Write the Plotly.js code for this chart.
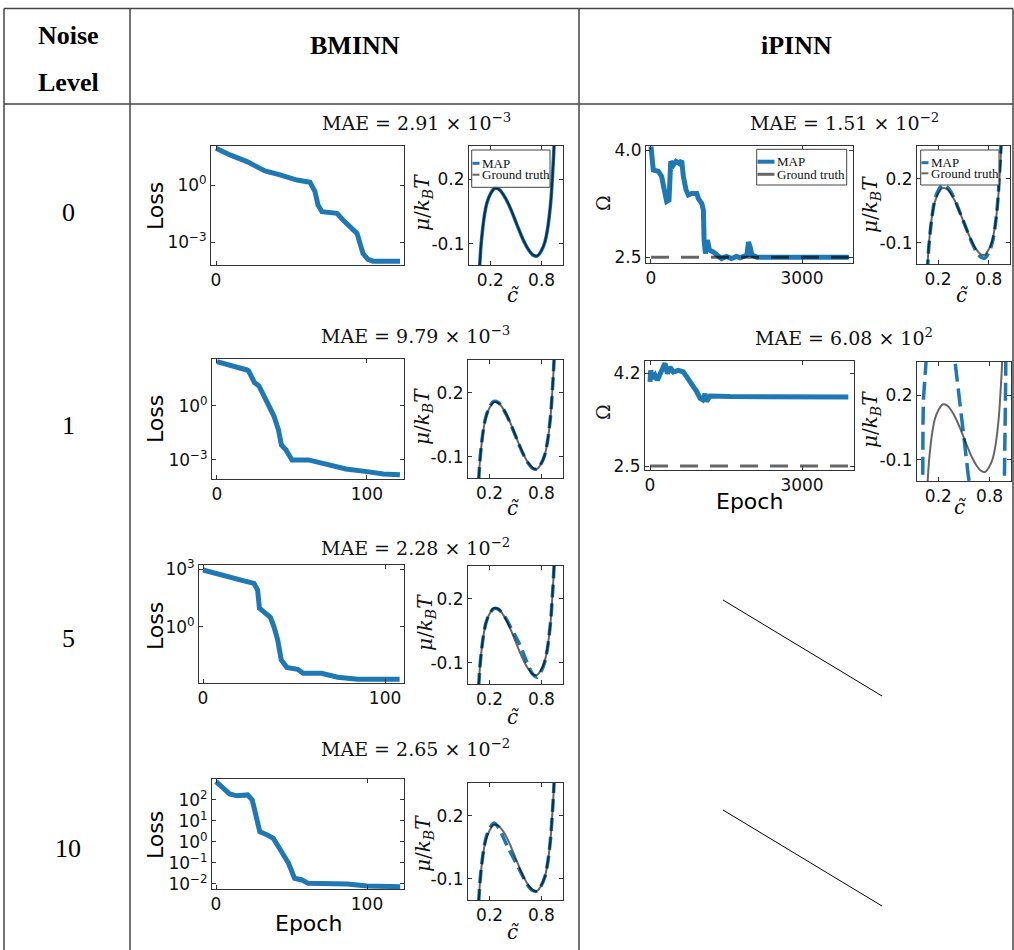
<!DOCTYPE html>
<html><head><meta charset="utf-8">
<script src="https://cdn.plot.ly/plotly-3.0.1.min.js"></script>
<style>html,body{margin:0;padding:0;background:#fff;} #chart{width:1014px;height:950px;}</style>
</head><body><div id="chart"></div>
<script>
// ---------------- data ----------------
const noiseLevels = ['0', '1', '5', '10'];
const methods = ['BMINN', 'iPINN'];
const maeBMINN = ['2.91 × 10<sup>−3</sup>', '9.79 × 10<sup>−3</sup>', '2.28 × 10<sup>−2</sup>', '2.65 × 10<sup>−2</sup>'];
const maeIPINN = ['1.51 × 10<sup>−2</sup>', '6.08 × 10<sup>2</sup>'];

// BMINN loss curves
const lossEpochs0 = [0, 14, 31, 49, 64, 81, 94, 99, 102, 106, 121, 127, 141, 144, 147, 152, 157, 184];
const loss0 = [85.1, 38.0, 17.0, 5.5, 3.39, 1.82, 1.38, 0.447, 0.0891, 0.0398, 0.0324, 0.0145, 0.00288, 0.000692, 0.000251, 0.000126, 0.0001, 0.0001];
const lossEpochs1 = [0, 9, 20, 21, 25, 28, 33, 38, 41, 43, 46, 50, 61, 75, 86, 100, 111, 122];
const loss1 = [288, 191, 100, 91.2, 20.0, 12.9, 2.14, 0.275, 0.0468, 0.00676, 0.00363, 0.001, 0.001, 0.000501, 0.000316, 0.000224, 0.000166, 0.000148];
const lossEpochs5 = [0, 8, 15, 22, 28, 30, 31, 33, 37, 39, 41, 43, 46, 52, 55, 65, 74, 85, 108];
const loss5 = [891, 550, 331, 251, 182, 81.3, 9.33, 6.17, 3.16, 1.02, 0.214, 0.0195, 0.00813, 0.00646, 0.00398, 0.00398, 0.00251, 0.00195, 0.00195];
const lossEpochs10 = [0, 5, 9, 14, 21, 24, 26, 29, 34, 38, 42, 48, 52, 57, 61, 87, 100, 122];
const loss10 = [741, 363, 195, 158, 174, 100, 23.4, 3.09, 2.14, 1.48, 0.501, 0.0977, 0.0186, 0.0155, 0.0107, 0.01, 0.00794, 0.00741];

// iPINN Omega curves
const omegaEpochs0 = [0, 13, 46, 146, 212, 279, 312, 358, 392, 444, 498, 564, 611, 643, 697, 743, 810, 910, 942, 1009, 1041, 1055, 1081, 1121, 1161, 1241, 1341, 1400, 1500, 1600, 1700, 1772, 1905, 1937, 1971, 2005, 2104, 3928];
const omega0 = [4.05, 3.86, 3.72, 3.70, 3.63, 3.39, 3.28, 3.30, 3.84, 3.79, 3.84, 3.81, 3.85, 3.63, 3.44, 3.37, 3.39, 3.39, 3.32, 3.25, 3.16, 2.74, 2.55, 2.74, 2.60, 2.57, 2.50, 2.48, 2.51, 2.48, 2.51, 2.49, 2.53, 2.71, 2.64, 2.53, 2.50, 2.50];
const omegaEpochs1 = [0, 13, 53, 99, 145, 197, 250, 296, 342, 395, 460, 559, 658, 724, 823, 922, 987, 1040, 1086, 1119, 1184, 1579, 3914];
const omega1 = [4.04, 4.25, 4.10, 4.16, 4.07, 4.19, 4.29, 4.38, 4.19, 4.31, 4.22, 4.25, 4.22, 4.13, 4.01, 3.86, 3.74, 3.71, 3.82, 3.68, 3.78, 3.77, 3.76];
const omegaTruthEpochs = [0, 3950];
const omegaTruth = [2.5, 2.5];

// chemical potential curves
const cGrid = [0.06, 0.075, 0.09, 0.11, 0.13, 0.16, 0.2, 0.25, 0.3, 0.35, 0.4, 0.45, 0.5, 0.55, 0.6, 0.65, 0.7, 0.75, 0.8, 0.84, 0.87, 0.89, 0.91, 0.925, 0.94, 0.96];
const muTruth = [-0.3, -0.2, -0.11, -0.03, 0.03, 0.09, 0.13, 0.157, 0.153, 0.13, 0.095, 0.05, 0, -0.05, -0.095, -0.13, -0.153, -0.157, -0.13, -0.09, -0.03, 0.03, 0.11, 0.2, 0.3, 0.48];
const mapBM0 = [-0.31, -0.205, -0.112, -0.032, 0.03, 0.09, 0.131, 0.158, 0.153, 0.129, 0.094, 0.049, -0.001, -0.051, -0.096, -0.131, -0.154, -0.158, -0.131, -0.09, -0.03, 0.03, 0.11, 0.2, 0.31, 0.49];
const mapBM1 = [-0.3, -0.2, -0.108, -0.028, 0.032, 0.092, 0.133, 0.16, 0.155, 0.13, 0.093, 0.047, -0.002, -0.052, -0.097, -0.132, -0.155, -0.158, -0.13, -0.089, -0.029, 0.031, 0.11, 0.2, 0.3, 0.48];
const mapBM5 = [-0.3, -0.2, -0.11, -0.03, 0.03, 0.09, 0.13, 0.155, 0.152, 0.132, 0.1, 0.062, 0.025, -0.015, -0.065, -0.115, -0.155, -0.168, -0.138, -0.095, -0.033, 0.03, 0.11, 0.2, 0.3, 0.48];
const mapBM10 = [-0.3, -0.2, -0.108, -0.026, 0.035, 0.097, 0.14, 0.165, 0.145, 0.105, 0.06, 0.02, -0.02, -0.06, -0.1, -0.135, -0.155, -0.158, -0.13, -0.09, -0.03, 0.03, 0.11, 0.2, 0.3, 0.48];
const mapIP0 = [-0.33, -0.22, -0.12, -0.035, 0.03, 0.1, 0.145, 0.172, 0.166, 0.14, 0.1, 0.05, 0, -0.05, -0.1, -0.14, -0.166, -0.172, -0.145, -0.1, -0.035, 0.03, 0.12, 0.22, 0.33, 0.5];
const cWide = [0.003, 0.006, 0.009, 0.012, 0.016, 0.02, 0.025, 0.03, 0.04, 0.06, 0.1, 0.15, 0.2, 0.25, 0.3, 0.35, 0.4, 0.45, 0.5, 0.55, 0.6, 0.65, 0.7, 0.75, 0.8, 0.85, 0.9, 0.94, 0.96, 0.97, 0.975, 0.98, 0.984, 0.988, 0.991, 0.994, 0.997];
const mapIP1 = [-1.57, -0.91, -0.54, -0.28, -0.09, 0.06, 0.18, 0.28, 0.44, 0.647, 0.811, 0.897, 0.87, 0.781, 0.657, 0.509, 0.347, 0.175, 0, -0.175, -0.347, -0.509, -0.657, -0.781, -0.87, -0.897, -0.811, -0.647, -0.44, -0.28, -0.18, -0.06, 0.09, 0.28, 0.54, 0.91, 1.57];

// ---------------- layout helpers ----------------
const W = 1014, H = 950;
const X = v => v / W;
const Y = v => 1 - v / H;
const BLUE = '#1f77b4';
const GT = 'rgba(0,0,0,0.6)';
const SANS = 'DejaVu Sans';
const SERIF = 'Liberation Serif';
const MATH = 'DejaVu Serif';

const muAxis = {xr: [-0.05, 1.05], yr: [-0.2, 0.355], xv: [0.2, 0.8], xt: ['0.2', '0.8'], yv: [0.2, -0.1], yt: ['0.2', '-0.1']};
const panels = [
  {d: [211, 404, 146, 265], xr: [-5, 188], yr: [-4.2, 2.05], log: true, xv: [0], xt: ['0'], yv: [1, 1e-3], yt: ['10<sup>0</sup>', '10<sup>−3</sup>']},
  Object.assign({d: [469, 563, 146, 265]}, muAxis),
  {d: [646, 853, 146, 263], xr: [-99, 4013], yr: [2.418, 4.056], xv: [0, 3000], xt: ['0', '3000'], yv: [2.5, 4.0], yt: ['2.5', '4.0']},
  Object.assign({d: [917, 1010, 146, 264]}, muAxis),
  {d: [212, 404, 359, 479], xr: [-3.3, 124.7], yr: [-4.06, 2.61], log: true, xv: [0, 100], xt: ['0', '100'], yv: [1, 1e-3], yt: ['10<sup>0</sup>', '10<sup>−3</sup>']},
  Object.assign({d: [468, 563, 360, 478]}, muAxis),
  {d: [645, 854, 361, 470], xr: [-99, 4026], yr: [2.427, 4.42], xv: [0, 3000], xt: ['0', '3000'], yv: [2.5, 4.2], yt: ['2.5', '4.2']},
  Object.assign({d: [917, 1011, 362, 481]}, muAxis),
  {d: [199, 404, 565, 683], xr: [-2.2, 110.4], yr: [-2.9, 3.21], log: true, xv: [0, 100], xt: ['0', '100'], yv: [1000, 1], yt: ['10<sup>3</sup>', '10<sup>0</sup>']},
  Object.assign({d: [468, 563, 566, 684]}, muAxis),
  {d: [212, 404, 779, 889], xr: [-2.65, 124.5], yr: [-2.24, 3.0], log: true, xv: [0, 100], xt: ['0', '100'], yv: [100, 10, 1, 0.1, 0.01], yt: ['10<sup>2</sup>', '10<sup>1</sup>', '10<sup>0</sup>', '10<sup>−1</sup>', '10<sup>−2</sup>']},
  Object.assign({d: [468, 563, 783, 900]}, muAxis)
];

const layout = {
  width: W, height: H, margin: {l: 0, r: 0, t: 0, b: 0},
  paper_bgcolor: '#fff', plot_bgcolor: '#fff', showlegend: false,
  annotations: [], shapes: []
};
const axBase = {
  showline: true, linecolor: '#333', linewidth: 1, mirror: 'allticks',
  ticks: 'inside', ticklen: 4, tickwidth: 1, tickcolor: '#333',
  showgrid: false, zeroline: false, fixedrange: true, tickmode: 'array',
  tickfont: {family: SANS, size: 17, color: '#111'}
};
panels.forEach((p, i) => {
  const k = i + 1;
  const xn = k === 1 ? 'xaxis' : 'xaxis' + k;
  const yn = k === 1 ? 'yaxis' : 'yaxis' + k;
  layout[xn] = Object.assign({}, axBase, {
    domain: [X(p.d[0]), X(p.d[1])], range: p.xr, anchor: 'y' + (k === 1 ? '' : k),
    tickvals: p.xv, ticktext: p.xt
  });
  layout[yn] = Object.assign({}, axBase, {
    domain: [Y(p.d[3]), Y(p.d[2])], range: p.yr, anchor: 'x' + (k === 1 ? '' : k),
    type: p.log ? 'log' : 'linear', tickvals: p.yv, ticktext: p.yt
  });
});

const traces = [];
function addLine(k, x, y, color, width, dash, shape) {
  traces.push({
    type: 'scatter', mode: 'lines', x: x, y: y,
    xaxis: 'x' + (k === 1 ? '' : k), yaxis: 'y' + (k === 1 ? '' : k),
    line: {color: color, width: width, dash: dash || 'solid', shape: shape || 'linear'},
    hoverinfo: 'skip'
  });
}
// loss panels
addLine(1, lossEpochs0, loss0, BLUE, 5);
addLine(5, lossEpochs1, loss1, BLUE, 5);
addLine(9, lossEpochs5, loss5, BLUE, 5);
addLine(11, lossEpochs10, loss10, BLUE, 5);
// omega panels
addLine(3, omegaEpochs0, omega0, BLUE, 5);
addLine(3, omegaTruthEpochs, omegaTruth, GT, 3, '18px,12px');
addLine(7, omegaEpochs1, omega1, BLUE, 5);
addLine(7, omegaTruthEpochs, omegaTruth, GT, 3, '18px,12px');
// mu panels
const muDash = '13px,6px';
addLine(2, cGrid, mapBM0, BLUE, 3.5, 'solid', 'spline');
addLine(2, cGrid, muTruth, GT, 2, 'solid', 'spline');
addLine(6, cGrid, mapBM1, BLUE, 3.5, muDash, 'spline');
addLine(6, cGrid, muTruth, GT, 2, 'solid', 'spline');
addLine(10, cGrid, mapBM5, BLUE, 3.5, muDash, 'spline');
addLine(10, cGrid, muTruth, GT, 2, 'solid', 'spline');
addLine(12, cGrid, mapBM10, BLUE, 3.5, muDash, 'spline');
addLine(12, cGrid, muTruth, GT, 2, 'solid', 'spline');
addLine(4, cGrid, mapIP0, BLUE, 3.5, muDash, 'spline');
addLine(4, cGrid, muTruth, GT, 2, 'solid', 'spline');
addLine(8, cWide, mapIP1, BLUE, 3.5, '18px,7px', 'linear');
addLine(8, cGrid, muTruth, GT, 2, 'solid', 'spline');

// ---------------- text ----------------
function ann(text, x, y, font, extra) {
  layout.annotations.push(Object.assign({
    text: text, x: X(x), y: Y(y), xref: 'paper', yref: 'paper', showarrow: false,
    xanchor: 'center', yanchor: 'middle', font: Object.assign({color: '#000'}, font)
  }, extra || {}));
}
const hdr = {family: SERIF, size: 26, color: '#000'};
ann('<b>Noise</b>', 68, 35, hdr);
ann('<b>Level</b>', 68, 82, hdr);
ann('<b>' + methods[0] + '</b>', 355, 45, hdr);
ann('<b>' + methods[1] + '</b>', 796, 45, hdr);
const rowY = [213, 425, 638, 848];
noiseLevels.forEach((n, i) => ann(n, 68, rowY[i], {family: SERIF, size: 26}));

const maeFont = {family: MATH, size: 19, color: '#111'};
[[416, 122], [415, 335], [415, 547], [415, 748]].forEach((p, i) => ann('MAE = ' + maeBMINN[i], p[0], p[1], maeFont));
[[844, 122], [844, 337]].forEach((p, i) => ann('MAE = ' + maeIPINN[i], p[0], p[1], maeFont));

const lossFont = {family: SANS, size: 22, color: '#000'};
[206, 419, 626, 835].forEach(y => ann('Loss', 155, y, lossFont, {textangle: -90}));
ann('Epoch', 308, 923, lossFont);
ann('Epoch', 749, 502, lossFont);
const omFont = {family: MATH, size: 19, color: '#111'};
ann('Ω', 603, 203, omFont, {textangle: -90});
ann('Ω', 603, 412, omFont, {textangle: -90});
const muLab = '<i>μ</i>/<i>k</i><sub><i>B</i></sub><i>T</i>';
const muFont = {family: MATH, size: 20, color: '#111'};
[[423, 203], [423, 417], [426, 623], [424, 844], [871, 205], [871, 420]].forEach(p => ann(muLab, p[0], p[1], muFont, {textangle: -90}));
const cFont = {family: MATH, size: 20, color: '#111'};
[[513, 295], [513, 508], [513, 717], [513, 932], [962, 295], [960, 507]].forEach(p => ann('<i>c̃</i>', p[0], p[1], cFont));

// ---------------- table rules & decorations ----------------
function seg(x0, y0, x1, y1, color, width, layer) {
  layout.shapes.push({type: 'line', xref: 'paper', yref: 'paper', x0: X(x0), y0: Y(y0), x1: X(x1), y1: Y(y1),
    line: {color: color, width: width}, layer: layer || 'above'});
}
const RULE = '#444';
seg(4, 8.5, 1013, 8.5, RULE, 1.5);
seg(4, 104, 1013, 104, RULE, 1.5);
[4, 130, 579, 1013].forEach(x => seg(x, 8.5, x, 950, RULE, 1.5));
seg(723, 600, 882, 696, '#000', 1);
seg(723, 810, 882, 906, '#000', 1);

// legends
function legendBox(x0, x1, y0, y1, lx0, lx1, ly1, ly2, tx, w1, w2) {
  layout.shapes.push({type: 'rect', xref: 'paper', yref: 'paper', x0: X(x0), x1: X(x1), y0: Y(y1), y1: Y(y0),
    fillcolor: 'rgba(255,255,255,0.85)', line: {color: '#444', width: 1}, layer: 'above'});
  seg(lx0, ly1, lx1, ly1, BLUE, w1);
  seg(lx0, ly2, lx1, ly2, GT, w2);
  const f = {family: SERIF, size: 13, color: '#111'};
  ann('MAP', tx, ly1, f, {xanchor: 'left'});
  ann('Ground truth', tx, ly2, f, {xanchor: 'left'});
}
legendBox(471.7, 550, 150, 187.3, 472.5, 479.5, 163.3, 174.7, 479.5, 3, 2);
legendBox(756.7, 846.7, 149.3, 185, 757.5, 774.5, 161.7, 174.3, 774.5, 4, 3);
legendBox(920.7, 999, 150, 185, 921.5, 928.5, 162.7, 173.3, 928.5, 3, 2);

Plotly.newPlot('chart', traces, layout, {staticPlot: true, displayModeBar: false});
</script></body></html>
